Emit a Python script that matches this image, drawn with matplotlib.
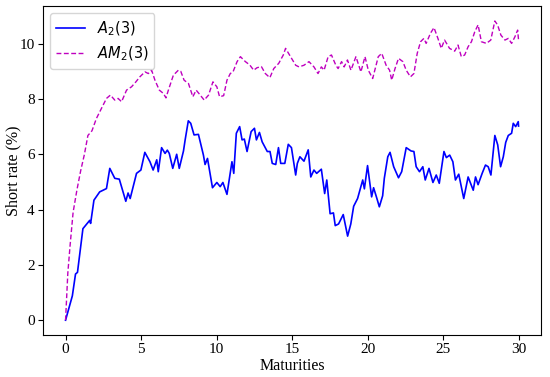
import matplotlib.pyplot as plt

plt.rcParams['font.family'] = ['Liberation Serif', 'DejaVu Serif']
plt.rcParams['mathtext.fontset'] = 'dejavusans'

# A_2(3) short rate path (maturity, %)
a2_t = [0.0, 0.45, 0.66, 0.79, 1.15, 1.60, 1.66, 1.88, 2.26, 2.71, 2.93, 3.26,
        3.56, 3.99, 4.14, 4.28, 4.70, 4.99, 5.25, 5.59, 5.80, 6.04, 6.14, 6.36,
        6.59, 6.74, 6.87, 7.10, 7.36, 7.53, 7.81, 7.92, 8.13, 8.29, 8.51, 8.80,
        9.13, 9.24, 9.40, 9.73, 10.02, 10.24, 10.42, 10.69, 11.02, 11.14, 11.31,
        11.53, 11.69, 11.84, 12.02, 12.29, 12.51, 12.64, 12.84, 13.02, 13.36,
        13.54, 13.69, 13.92, 14.10, 14.25, 14.52, 14.75, 14.96, 15.24, 15.35,
        15.52, 15.79, 16.07, 16.24, 16.45, 16.63, 16.94, 17.16, 17.30, 17.52,
        17.74, 17.86, 18.08, 18.39, 18.68, 18.89, 19.08, 19.34, 19.68, 19.79,
        20.00, 20.27, 20.40, 20.62, 20.78, 21.00, 21.11, 21.34, 21.49, 21.73,
        22.05, 22.26, 22.56, 22.88, 23.07, 23.22, 23.44, 23.66, 23.82, 24.07,
        24.33, 24.55, 24.75, 25.06, 25.22, 25.44, 25.65, 25.82, 26.04, 26.37,
        26.66, 27.00, 27.15, 27.32, 27.59, 27.81, 27.99, 28.17, 28.43, 28.62,
        28.81, 28.99, 29.15, 29.32, 29.54, 29.65, 29.81, 29.98, 30.0]
a2_r = [0.0, 0.88, 1.67, 1.73, 3.31, 3.61, 3.5, 4.34, 4.64, 4.76, 5.49, 5.13,
        5.1, 4.3, 4.6, 4.4, 5.31, 5.43, 6.07, 5.73, 5.43, 5.8, 5.37, 6.24,
        6.03, 6.15, 6.03, 5.49, 6.0, 5.49, 6.12, 6.52, 7.21, 7.12, 6.7, 6.72,
        5.97, 5.63, 5.85, 4.79, 4.98, 4.83, 4.98, 4.55, 5.73, 5.31, 6.76,
        7.0, 6.52, 6.55, 6.1, 6.82, 6.94, 6.52, 6.79, 6.45, 6.1,
        6.1, 5.67, 5.63, 6.24, 5.67, 5.67, 6.36, 6.24, 5.25, 5.67,
        5.91, 5.75, 6.16, 5.18, 5.43, 5.31, 5.46, 4.58, 5.07, 3.85,
        3.88, 3.42, 3.48, 3.82, 3.04, 3.48, 4.12, 4.4, 5.07, 4.75,
        5.59, 4.46, 4.79, 4.4, 4.1, 4.5, 5.13, 5.91, 6.07, 5.55,
        5.15, 5.37, 6.24, 6.12, 6.1, 5.55, 5.37, 5.55, 5.07, 5.49,
        4.98, 5.25, 4.95, 6.1, 5.88, 5.97, 5.73, 5.07, 5.28, 4.4,
        5.18, 4.7, 5.18, 4.9, 5.31, 5.61, 5.55, 5.25, 6.68, 6.34,
        5.55, 5.91, 6.43, 6.68, 6.76, 7.12, 7.0, 7.18, 7.02]

# AM_2(3) short rate path (maturity, %)
am2_t = [0.0, 0.15, 0.3, 0.5, 0.75, 1.0, 1.25, 1.48, 1.75, 2.04, 2.37, 2.71,
         2.97, 3.26, 3.48, 3.71, 4.04, 4.37, 4.66, 4.92, 5.26, 5.48, 5.70,
         5.92, 6.21, 6.48, 6.65, 6.81, 7.14, 7.47, 7.63, 7.85, 8.14, 8.43,
         8.65, 8.92, 9.18, 9.47, 9.76, 10.02, 10.20, 10.47, 10.69, 10.91,
         11.09, 11.36, 11.58, 11.91, 12.20, 12.46, 12.68, 12.97, 13.23, 13.53,
         13.79, 14.12, 14.42, 14.57, 14.90, 15.24, 15.46, 15.79, 16.12, 16.45,
         16.72, 16.94, 17.12, 17.39, 17.61, 17.90, 18.05, 18.28, 18.45, 18.67,
         18.90, 19.23, 19.56, 19.83, 20.05, 20.34, 20.71, 20.94, 21.23, 21.46,
         21.60, 21.82, 22.05, 22.34, 22.56, 22.84, 23.07, 23.29, 23.51, 23.73,
         23.88, 24.17, 24.40, 24.66, 24.88, 25.10, 25.43, 25.77, 25.99, 26.21,
         26.43, 26.66, 26.88, 27.10, 27.32, 27.54, 27.87, 28.16, 28.43, 28.61,
         28.83, 29.10, 29.32, 29.54, 29.76, 29.94, 30.0]
am2_r = [0.0, 1.7, 2.7, 3.9, 4.7, 5.4, 6.0, 6.68, 6.85, 7.29, 7.65, 8.02,
         8.14, 7.96, 8.02, 7.9, 8.32, 8.44, 8.62, 8.8, 8.98, 8.92, 9.04,
         8.68, 8.32, 8.2, 8.04, 8.32, 8.86, 9.04, 9.0, 8.68, 8.56, 8.08,
         8.32, 8.14, 7.96, 8.14, 8.62, 8.44, 8.08, 8.12, 8.68, 8.92,
         8.98, 9.35, 9.53, 9.35, 9.23, 9.04, 9.13, 9.17, 8.92, 8.77,
         9.1, 9.29, 9.59, 9.83, 9.53, 9.22, 9.16, 9.22, 9.35, 9.16,
         8.92, 9.16, 9.04, 9.53, 9.59, 9.22, 9.1, 9.35, 9.16, 9.41,
         9.04, 9.53, 8.98, 9.53, 9.04, 8.74, 9.53, 9.65, 9.22, 9.04,
         8.68, 9.1, 9.47, 9.35, 9.04, 8.8, 8.92, 9.65, 10.07, 10.19,
         10.01, 10.38, 10.58, 10.19, 9.83, 10.13, 9.83, 9.73, 9.95, 9.53,
         9.59, 9.89, 10.07, 10.43, 10.68, 10.07, 10.01, 10.13, 10.82, 10.68,
         10.31, 10.13, 10.19, 10.01, 10.25, 10.49, 10.13]

fig = plt.figure(figsize=(5.5, 3.77), dpi=100)
ax = fig.add_axes([0.078, 0.111, 0.906, 0.873])

ax.plot(a2_t, a2_r, color='blue', linewidth=1.2, label=r'$A_2(3)$')
ax.plot(am2_t, am2_r, color='m', linestyle='--', linewidth=1.0,
        dashes=(3.5, 1.8), label=r'$AM_2(3)$')

ax.set_xlabel('Maturities', fontsize=11.5, labelpad=1)
ax.set_ylabel('Short rate (%)', fontsize=11.5)
ax.yaxis.set_label_coords(-0.044, 0.5)
ax.tick_params(labelsize=11, pad=2.5)
ax.set_xticks([0, 5, 10, 15, 20, 25, 30])
ax.legend(loc='upper left', fontsize=10.5)

plt.savefig('out.png', dpi=100)
